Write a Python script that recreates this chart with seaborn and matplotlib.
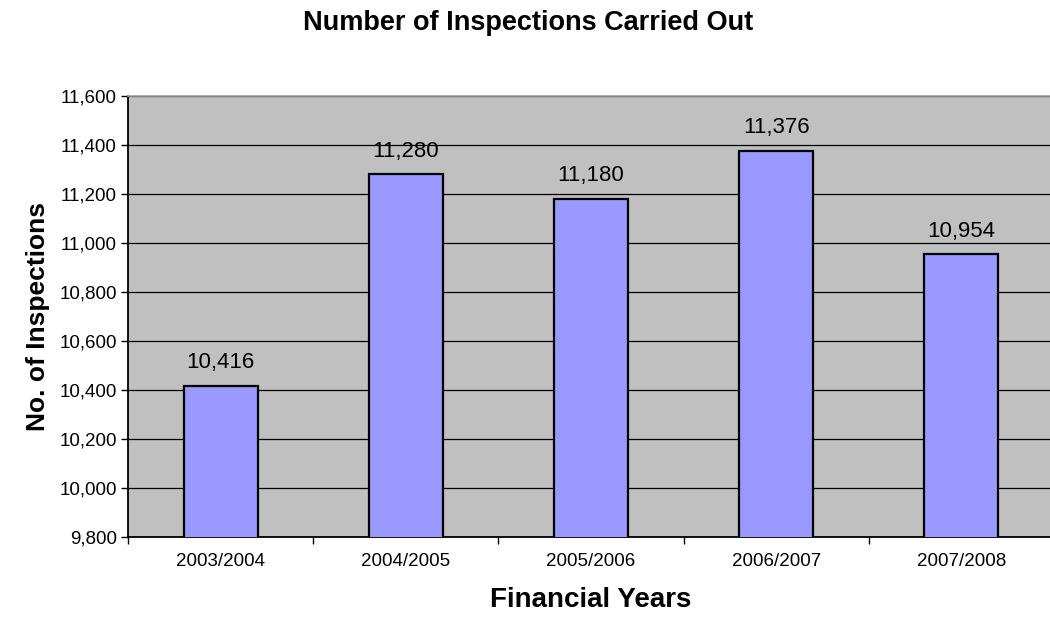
import matplotlib
matplotlib.use("Agg")
import matplotlib.pyplot as plt
import seaborn as sns
import pandas as pd
from matplotlib.ticker import FuncFormatter, FixedLocator

years = ["2003/2004", "2004/2005", "2005/2006", "2006/2007", "2007/2008"]
inspections = [10416, 11280, 11180, 11376, 10954]
yticks = [9800, 10000, 10200, 10400, 10600, 10800, 11000, 11200, 11400, 11600]

sns.set_style("white")
plt.rcParams['font.family'] = ['Liberation Sans', 'DejaVu Sans']
plt.rcParams['text.color'] = 'black'
plt.rcParams['axes.labelcolor'] = 'black'
plt.rcParams['xtick.color'] = 'black'
plt.rcParams['ytick.color'] = 'black'

df = pd.DataFrame({"year": years, "n": inspections})

fig = plt.figure(figsize=(10.5, 6.27), dpi=100)
ax = fig.add_axes([128/1050, 1-536.5/627, 926/1050, 440.5/627])
ax.set_facecolor("#C0C0C0")

sns.barplot(data=df, x="year", y="n", color="#9999FF", width=0.40,
            edgecolor="black", linewidth=1.6, saturation=1, ax=ax, zorder=3)

ax.set_ylim(yticks[0], yticks[-1])
ax.set_xlim(-0.5, len(years) - 0.5)
ax.set_yticks(yticks)
ax.yaxis.set_major_formatter(FuncFormatter(lambda v, p: f"{int(v):,}"))
ax.grid(axis="y", color="black", linewidth=0.9, zorder=0)
ax.set_axisbelow(True)

ax.tick_params(axis="y", direction="out", length=5, width=1, color="black",
               labelsize=13.5, pad=3, left=True, labelcolor="black")
ax.tick_params(axis="x", which="major", length=0, labelsize=13.5, pad=12,
               labelcolor="black")
ax.xaxis.set_minor_locator(FixedLocator([i - 0.5 for i in range(len(years) + 1)]))
ax.tick_params(axis="x", which="minor", direction="out", length=5, width=1,
               color="black", bottom=True)

for s in ["left", "bottom"]:
    ax.spines[s].set_color("black")
    ax.spines[s].set_linewidth(1.3)
for s in ["top", "right"]:
    ax.spines[s].set_color("#A0A0A0")
    ax.spines[s].set_linewidth(1.2)

for i, v in enumerate(inspections):
    ax.annotate(f"{v:,}", (i, v), xytext=(0, 9), textcoords="offset points",
                ha="center", va="bottom", fontsize=16, color="black")

ax.set_xlabel("Financial Years", fontsize=20, fontweight="bold", labelpad=12,
              color="black")
ax.set_ylabel("No. of Inspections", fontsize=19, fontweight="bold", labelpad=7,
              color="black")
fig.suptitle("Number of Inspections Carried Out", fontsize=19.5, fontweight="bold",
             x=528/1050, y=1-10/627, va="top", color="black")

fig.savefig("out.png", dpi=100, facecolor="white")
